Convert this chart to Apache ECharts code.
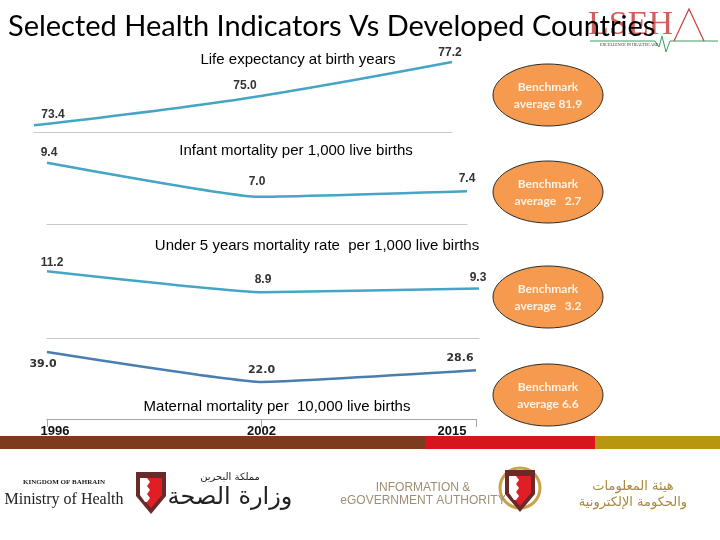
<!DOCTYPE html>
<html>
<head>
<meta charset="utf-8">
<script src="https://cdn.jsdelivr.net/npm/echarts@6/dist/echarts.min.js"></script>
<style>html,body{margin:0;padding:0;background:#fff}#c{width:720px;height:540px}</style>
</head>
<body>
<div id="c"></div>
<script>
// ---- data ----
const categories = ['1996', '2002', '2015'];
const lifeExpectancy = [73.4, 75.0, 77.2];
const infantMortality = [9.4, 7.0, 7.4];
const under5Mortality = [11.2, 8.9, 9.3];
const maternalMortality = [39.0, 22.0, 28.6];
const benchmarks = ['81.9', '2.7', '3.2', '6.6'];
const panelTitles = [
  'Life expectancy at birth years',
  'Infant mortality per 1,000 live births',
  'Under 5 years mortality rate  per 1,000 live births',
  'Maternal mortality per  10,000 live births'
];
const mainTitle = 'Selected Health Indicators Vs Developed Countries';

// ---- layout / style ----
const grids = [
  {left: 34, top: 57, width: 418, height: 75},
  {left: 47, top: 150, width: 420, height: 73.8},
  {left: 47, top: 262, width: 432, height: 76},
  {left: 47, top: 345, width: 429, height: 74}
];
const yRanges = [[73, 77.5], [5.1, 10.3], [3.9, 12.2], [1, 43]];
const lineColors = ['#45A5C4', '#45A5C4', '#45A5C4', '#4A7EB0'];
const labelLayouts = [
  [{position: 'top', offset: [19, 2]}, {position: 'top', offset: [2, 0]}, {position: 'top', offset: [-2, 3]}],
  [{position: 'top', offset: [2, 2]}, {position: 'top', offset: [0, -3]}, {position: 'top', offset: [0, 0]}],
  [{position: 'top', offset: [5, 4]}, {position: 'top', offset: [0, 0]}, {position: 'top', offset: [-1, 2]}],
  [{position: 'bottom', offset: [-4, 0]}, {position: 'top', offset: [0, 0]}, {position: 'top', offset: [-16, 0]}]
];
const titlePos = [[293, 47], [291, 138], [312, 233], [272, 394]];
const ellipseCenters = [[548, 95], [548, 192], [548, 297], [548, 395]];
const seriesValues = [lifeExpectancy, infantMortality, under5Mortality, maternalMortality];

const chart = echarts.init(document.getElementById('c'), null, {renderer: 'canvas'});

const xAxes = grids.map((g, i) => ({
  type: 'category', gridIndex: i, data: i === 3 ? categories.map((c, j) => ({
    value: c,
    textStyle: {padding: j === 0 ? [0, 0, 0, 16] : (j === 2 ? [0, 48, 0, 0] : 0)}
  })) : categories,
  boundaryGap: false,
  axisLine: {show: true, lineStyle: {color: i === 3 ? '#A6A6A6' : '#C8C8C8', width: 1}},
  axisTick: {show: i === 3, length: 8, lineStyle: {color: '#A6A6A6'}},
  axisLabel: {show: i === 3, color: '#111', fontFamily: 'Liberation Sans, Arial', fontWeight: 'bold', fontSize: 13, margin: 6},
  splitLine: {show: false}
}));
const yAxes = grids.map((g, i) => ({
  type: 'value', gridIndex: i, min: yRanges[i][0], max: yRanges[i][1], show: false
}));
const series = seriesValues.map((vals, i) => ({
  type: 'line', xAxisIndex: i, yAxisIndex: i,
  smooth: i === 0 ? 0.35 : 0.12,
  symbol: 'circle', symbolSize: 1, showSymbol: true,
  itemStyle: {color: 'rgba(0,0,0,0)'},
  lineStyle: {color: lineColors[i], width: 2.5},
  data: vals.map((v, j) => ({
    value: v,
    label: Object.assign({
      show: true, formatter: p => Number(p.value).toFixed(1),
      color: '#333', fontWeight: 'bold',
      fontFamily: i === 3 ? 'DejaVu Sans' : 'Liberation Sans, Arial',
      fontSize: i === 3 ? 11 : 12, distance: 6
    }, labelLayouts[i][j])
  }))
}));

const titles = [{
  text: mainTitle, left: 3, top: 7,
  textStyle: {fontFamily: 'Lato', fontWeight: 'normal', fontSize: 29, color: '#000'}, z: 10
}].concat(panelTitles.map((t, i) => ({
  text: t, left: titlePos[i][0], top: titlePos[i][1], textAlign: 'center',
  textStyle: {fontFamily: 'Liberation Sans, Arial', fontWeight: 'normal', fontSize: 15, color: '#000'}
})));

const graphics = [];
// benchmark ellipses
ellipseCenters.forEach((c, i) => {
  graphics.push({type: 'ellipse', shape: {cx: c[0], cy: c[1], rx: 55, ry: 31},
    style: {fill: '#F59A4E', stroke: '#2b2b2b', lineWidth: 1}, z: 5});
  graphics.push({type: 'text', x: c[0], y: c[1] - 8, z: 6,
    style: {text: 'Benchmark', fill: '#FFF3E6', font: 'bold 12px Lato', align: 'center', verticalAlign: 'middle'}});
  graphics.push({type: 'text', x: c[0], y: c[1] + 9, z: 6,
    style: {text: 'average ' + (i === 1 || i === 2 ? '  ' : '') + benchmarks[i], fill: '#FFF3E6', font: 'bold 12px Lato', align: 'center', verticalAlign: 'middle'}});
});
// bottom colour band
graphics.push({type: 'rect', shape: {x: 0, y: 436, width: 425, height: 13}, style: {fill: '#7E3A1C'}, z: 1});
graphics.push({type: 'rect', shape: {x: 425, y: 436, width: 170, height: 13}, style: {fill: '#D8141C'}, z: 1});
graphics.push({type: 'rect', shape: {x: 595, y: 436, width: 125, height: 13}, style: {fill: '#B8960F'}, z: 1});
// LSEHA logo
graphics.push({type: 'text', x: 588, y: 8, z: 1,
  style: {text: 'LSEH', fill: '#C9413F', font: '34px Liberation Serif', opacity: 0.85}});
graphics.push({type: 'polyline', z: 1, shape: {points: [[590, 41], [655, 41], [659, 47], [662, 36], [666, 52], [670, 41], [718, 41]]},
  style: {stroke: '#3E9E5A', lineWidth: 1, fill: null}});
graphics.push({type: 'polyline', z: 1, shape: {points: [[674, 41], [689, 9], [704, 41]]},
  style: {stroke: '#C9413F', lineWidth: 1.2, fill: null}});
graphics.push({type: 'text', x: 600, y: 43, z: 1,
  style: {text: 'EXCELLENCE IN HEALTHCARE', fill: '#333', font: '4px Liberation Serif'}});
// Ministry of Health logo
graphics.push({type: 'text', x: 64, y: 482, z: 1,
  style: {text: 'KINGDOM OF BAHRAIN', fill: '#222', font: 'bold 7px Liberation Serif', align: 'center', verticalAlign: 'middle'}});
graphics.push({type: 'text', x: 64, y: 500, z: 1,
  style: {text: 'Ministry of Health', fill: '#222', font: '16px Liberation Serif', align: 'center', verticalAlign: 'middle'}});
function shield(x, y, ring) {
  if (ring) {
    graphics.push({type: 'circle', shape: {cx: x, cy: y - 2, r: 20}, style: {fill: null, stroke: '#C9A24A', lineWidth: 3}, z: 1});
  }
  graphics.push({type: 'polygon', z: 2, shape: {points: [[x - 15, y - 20], [x + 15, y - 20], [x + 15, y + 4], [x, y + 22], [x - 15, y + 4]]},
    style: {fill: '#6B2A2A'}});
  graphics.push({type: 'polygon', z: 3, shape: {points: [[x - 11, y - 14], [x + 11, y - 14], [x + 11, y + 3], [x, y + 16], [x - 11, y + 3]]},
    style: {fill: '#E01E26'}});
  graphics.push({type: 'polygon', z: 4, shape: {points: [[x - 11, y - 14], [x - 4, y - 14], [x - 1, y - 10], [x - 4, y - 6], [x - 1, y - 2], [x - 4, y + 2], [x - 1, y + 6], [x - 4, y + 10], [x - 6, y + 10], [x - 11, y + 3]]},
    style: {fill: '#FFFFFF'}});
}
shield(151, 492, false);
shield(520, 490, true);
graphics.push({type: 'text', x: 230, y: 477, z: 1,
  style: {text: 'مملكة البحرين', fill: '#222', font: '10px DejaVu Sans', align: 'center', verticalAlign: 'middle'}});
graphics.push({type: 'text', x: 230, y: 498, z: 1,
  style: {text: 'وزارة الصحة', fill: '#222', font: '24px DejaVu Sans', align: 'center', verticalAlign: 'middle'}});
// eGovernment logo
graphics.push({type: 'text', x: 423, y: 488, z: 1,
  style: {text: 'INFORMATION &', fill: '#A08E72', font: '12px Liberation Sans', align: 'center', verticalAlign: 'middle'}});
graphics.push({type: 'text', x: 423, y: 501, z: 1,
  style: {text: 'eGOVERNMENT AUTHORITY', fill: '#A08E72', font: '12px Liberation Sans', align: 'center', verticalAlign: 'middle'}});
graphics.push({type: 'text', x: 633, y: 487, z: 1,
  style: {text: 'هيئة المعلومات', fill: '#A8883E', font: '13px DejaVu Sans', align: 'center', verticalAlign: 'middle'}});
graphics.push({type: 'text', x: 633, y: 503, z: 1,
  style: {text: 'والحكومة الإلكترونية', fill: '#A8883E', font: '13px DejaVu Sans', align: 'center', verticalAlign: 'middle'}});

chart.setOption({
  animation: false,
  backgroundColor: '#ffffff',
  title: titles,
  grid: grids,
  xAxis: xAxes,
  yAxis: yAxes,
  series: series,
  graphic: {elements: graphics}
});
</script>
</body>
</html>
